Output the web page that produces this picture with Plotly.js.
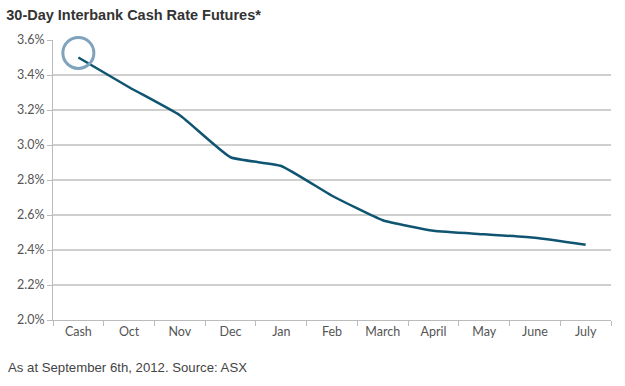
<!DOCTYPE html>
<html><head><meta charset="utf-8">
<script src="https://cdn.plot.ly/plotly-3.0.1.min.js"></script>
<style>body{margin:0;background:#fff}#chart{width:625px;height:386px}</style>
</head><body><div id="chart"></div>
<script>
const categories = ['Cash','Oct','Nov','Dec','Jan','Feb','March','April','May','June','July'];
const rates = [3.50, 3.33, 3.17, 2.93, 2.88, 2.71, 2.57, 2.51, 2.49, 2.47, 2.43];
const highlightCategory = ['Cash'];
const highlightValue = [3.526];
const yTicks = [2.0, 2.2, 2.4, 2.6, 2.8, 3.0, 3.2, 3.4, 3.6];
const yTickLabels = yTicks.map(v => v.toFixed(1) + '%');

const traces = [
  {x: categories, y: rates, type: 'scatter', mode: 'lines',
   line: {color: '#0f5572', width: 2.5, shape: 'spline', smoothing: 0.4}, hoverinfo: 'skip'},
  {x: highlightCategory, y: highlightValue, type: 'scatter', mode: 'markers', cliponaxis: false,
   marker: {symbol: 'circle-open', size: 31, color: '#7fa2bd', line: {width: 3, color: '#7fa2bd'}}, hoverinfo: 'skip'}
];
const layout = {
  width: 625, height: 386, showlegend: false,
  margin: {l: 53, r: 14, t: 40, b: 66},
  paper_bgcolor: '#fff', plot_bgcolor: '#fff',
  font: {family: 'Lato, Liberation Sans, sans-serif', size: 12, color: '#555'},
  title: {text: '<b>30-Day Interbank Cash Rate Futures*</b>', x: 0.01, xanchor: 'left', y: 0.975, yanchor: 'top',
          font: {family: 'Liberation Sans, Arial, sans-serif', size: 14.5, color: '#333'}},
  xaxis: {type: 'category', categoryorder: 'array', categoryarray: categories,
          range: [-0.5, categories.length - 0.5], tickson: 'boundaries',
          ticks: 'outside', ticklen: 5, tickcolor: '#bbb', showline: true, linecolor: '#bbb', linewidth: 1,
          showgrid: false, tickfont: {size: 12.5, color: '#555'}, fixedrange: true},
  yaxis: {range: [2.0, 3.6], tickvals: yTicks, ticktext: yTickLabels, ticks: 'outside', ticklen: 5,
          tickcolor: '#bbb', showline: true, linecolor: '#bbb', linewidth: 1,
          showgrid: true, gridcolor: '#cfcfcf', gridwidth: 1.5, zeroline: false,
          tickfont: {size: 12.5, color: '#555'}, fixedrange: true},
  annotations: [{text: 'As at September 6th, 2012. Source: ASX', xref: 'paper', yref: 'paper',
                 x: -53/558, xanchor: 'left', y: -47/280, yanchor: 'middle', showarrow: false,
                 xshift: 6, font: {family: 'Liberation Sans, Arial, sans-serif', size: 13.2, color: '#444'}}]
};
Plotly.newPlot('chart', traces, layout, {displayModeBar: false, staticPlot: true});
</script></body></html>
